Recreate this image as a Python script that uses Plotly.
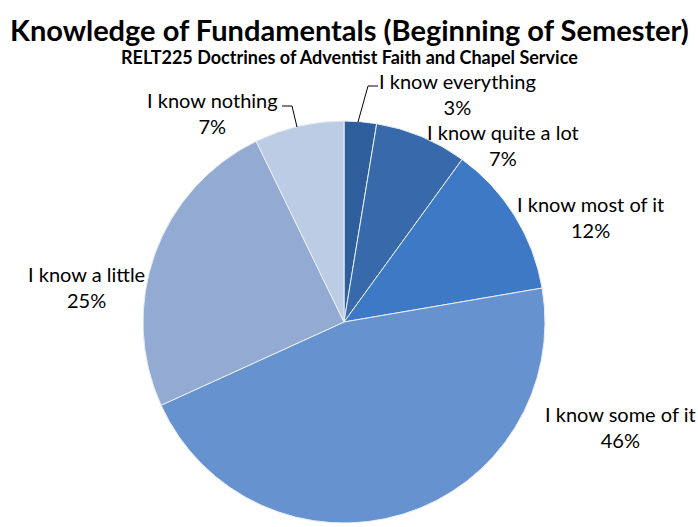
import plotly.graph_objects as go

W, H = 698, 527

labels = ["I know everything", "I know quite a lot", "I know most of it",
          "I know some of it", "I know a little", "I know nothing"]
values = [2.6, 7.4, 12.3, 45.9, 24.6, 7.2]
pct_text = ["3%", "7%", "12%", "46%", "25%", "7%"]
colors = ["#2E5E9C", "#3869AA", "#3D79C4", "#6792D0", "#93AAD3", "#BCCCE5"]

# label centres in pixels (x, y of first line)
label_pos = [(457, 82), (503, 133), (590, 205), (620, 415), (86, 275), (212, 101)]

FONT = "Lato, 'Open Sans', sans-serif"


def px(x):
    return x / W


def py(y):
    return 1 - y / H


fig = go.Figure(go.Pie(
    labels=labels,
    values=values,
    sort=False,
    direction="clockwise",
    rotation=0,
    marker=dict(colors=colors, line=dict(color="#E8EEF7", width=1)),
    textinfo="none",
    hoverinfo="label+percent",
    showlegend=False,
    domain=dict(x=[px(143), px(545)], y=[py(523), py(121)]),
))

annotations = []
for lab, pct, (x, y) in zip(labels, pct_text, label_pos):
    annotations.append(dict(
        x=px(x), y=py(y + 12), xref="paper", yref="paper",
        text=f"{lab}<br>{pct}", showarrow=False, align="center",
        xanchor="center", yanchor="middle",
        font=dict(family=FONT, size=20, color="#000000"),
    ))

annotations.append(dict(
    x=0.5, y=py(30), xref="paper", yref="paper", showarrow=False,
    text="<b>Knowledge of Fundamentals (Beginning of Semester)</b>",
    font=dict(family=FONT, size=29, color="#000000"), xanchor="center", yanchor="middle",
))
annotations.append(dict(
    x=0.5, y=py(57), xref="paper", yref="paper", showarrow=False,
    text="<b>RELT225 Doctrines of Adventist Faith and Chapel Service</b>",
    font=dict(family=FONT, size=18, color="#000000"), xanchor="center", yanchor="middle",
))

# leader lines
leaders = [
    [(378, 86), (368, 86), (358, 122)],
    [(282, 106), (292, 106), (297, 127)],
]
shapes = []
for pts in leaders:
    path = "M " + " L ".join(f"{px(a)},{py(b)}" for a, b in pts)
    shapes.append(dict(type="path", path=path, xref="paper", yref="paper",
                       line=dict(color="#000000", width=1)))

fig.update_layout(
    width=W, height=H,
    margin=dict(l=0, r=0, t=0, b=0),
    paper_bgcolor="white",
    plot_bgcolor="white",
    annotations=annotations,
    shapes=shapes,
)

fig.write_html("out.html", config={"displayModeBar": False},
               post_script="document.body.style.margin='0';")
